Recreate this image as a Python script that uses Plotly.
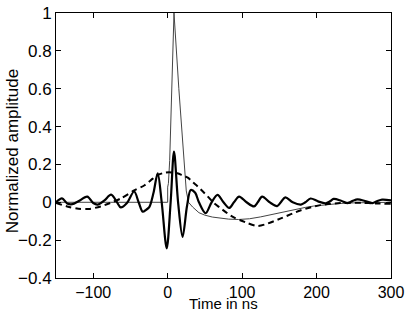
import plotly.graph_objects as go

# Thin solid curve (sharp pulse)
t_thin = [-150, -100, -50, 0, 0.01, 1.0, 2.7, 8.5, 15, 21.4, 25, 28, 33.5, 42, 50, 60, 70, 82, 95, 110, 125, 140, 152, 170, 185, 196, 215, 232, 250, 270, 300]
v_thin = [0, 0, 0, 0, 0.08, 0.1, 0.22, 1.0, 0.6, 0.22, 0.06, 0.0, -0.025, -0.055, -0.068, -0.078, -0.084, -0.089, -0.091, -0.087, -0.077, -0.064, -0.054, -0.038, -0.027, -0.02, -0.011, -0.006, -0.003, -0.001, 0.0]

# Thick solid curve (oscillating wavelet)
t_thick = [-150, -142, -135, -128, -120, -108, -100, -94, -85, -76, -68, -63, -55, -45, -39, -33.5, -29, -24.5, -19, -13.4, -8, -1.3, 4, 8.5, 14, 20, 26, 31, 37, 42, 51, 59, 67, 75, 82.6, 89, 96, 106, 116, 121, 127, 137, 147, 152, 158, 168, 179, 185, 192, 202, 212, 218, 223, 233, 241, 248, 255, 265, 275, 281, 288, 300]
v_thick = [0.0, 0.021, -0.006, -0.01, 0.005, 0.03, -0.004, -0.012, 0.01, 0.04, 0.0, -0.027, -0.005, 0.057, 0.0, -0.05, -0.04, -0.024, 0.05, 0.153, 0.0, -0.243, 0.0, 0.268, 0.0, -0.183, -0.02, 0.065, 0.05, 0.0, -0.058, 0.0, 0.039, 0.0, -0.03, 0.0, 0.03, 0.0, -0.022, 0.0, 0.03, 0.0, -0.02, 0.0, 0.026, 0.0, -0.012, 0.0, 0.02, 0.005, -0.005, 0.005, 0.018, 0.008, -0.004, 0.006, 0.015, 0.007, -0.004, 0.005, 0.014, 0.01]

# Dashed curve (broad pulse)
t_dash = [-150, -135, -120, -105, -90, -78, -62, -45, -31, -20, -13, -3, 5, 13, 20, 27, 34, 40, 47, 54, 61, 69, 87, 104, 120, 130, 152, 179, 205, 232, 260, 280, 300]
v_dash = [-0.003, -0.022, -0.034, -0.035, -0.022, -0.005, 0.022, 0.063, 0.09, 0.125, 0.145, 0.157, 0.158, 0.153, 0.142, 0.13, 0.105, 0.085, 0.058, 0.03, 0.0, -0.025, -0.076, -0.105, -0.125, -0.118, -0.085, -0.042, -0.015, -0.004, -0.003, -0.006, -0.008]

x_ticks = [-100, 0, 100, 200, 300]
y_ticks = [-0.4, -0.2, 0, 0.2, 0.4, 0.6, 0.8, 1]

font = "Liberation Sans, Arial, sans-serif"

fig = go.Figure()
fig.add_trace(go.Scatter(x=t_thin, y=v_thin, mode="lines",
                         line=dict(color="#444444", width=1), showlegend=False))
fig.add_trace(go.Scatter(x=t_dash, y=v_dash, mode="lines",
                         line=dict(color="black", width=2, dash="6px,4px", shape="spline", smoothing=0.8),
                         showlegend=False))
fig.add_trace(go.Scatter(x=t_thick, y=v_thick, mode="lines",
                         line=dict(color="black", width=2.2, shape="spline", smoothing=0.9),
                         showlegend=False))

axis_common = dict(showgrid=False, zeroline=False, showline=True, linecolor="black", linewidth=1,
                   mirror="allticks", ticks="inside", ticklen=5, tickcolor="black", automargin=False)

fig.update_xaxes(range=[-150, 300], tickvals=x_ticks,
                 tickfont=dict(family=font, size=16, color="black"), **axis_common)
fig.update_yaxes(range=[-0.4, 1], tickvals=y_ticks,
                 tickfont=dict(family=font, size=17, color="black"), **axis_common)

fig.add_annotation(text="Time in ns", xref="paper", yref="paper", x=0.5, y=-0.135,
                   xanchor="center", yanchor="bottom", showarrow=False,
                   font=dict(family=font, size=15, color="black"))
fig.add_annotation(text="Normalized amplitude", xref="paper", yref="paper", x=-0.13, y=0.48,
                   xanchor="center", yanchor="middle", showarrow=False, textangle=-90,
                   font=dict(family=font, size=17, color="black"))

fig.update_layout(width=409, height=314, margin=dict(l=56, r=18, t=13, b=36, autoexpand=False),
                  plot_bgcolor="white", paper_bgcolor="white")

fig.write_html("out.html", config={"displayModeBar": False},
               post_script="document.body.style.margin='0';document.body.style.overflow='hidden';")
